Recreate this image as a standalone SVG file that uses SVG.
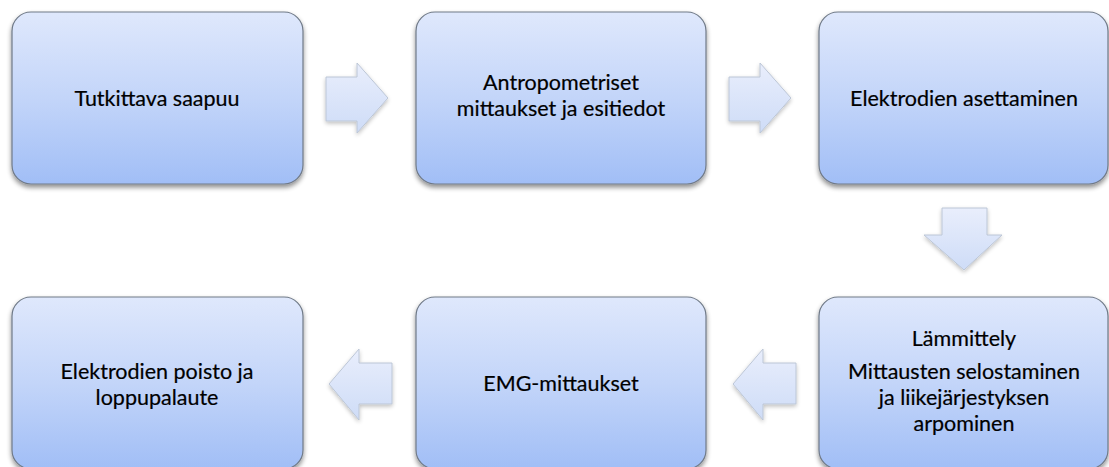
<svg xmlns="http://www.w3.org/2000/svg" width="1109" height="467" viewBox="0 0 1109 467">
<defs>
<linearGradient id="boxg" x1="0" y1="0" x2="0" y2="1">
<stop offset="0" stop-color="#dfe8fc"/>
<stop offset="0.5" stop-color="#c3d5f9"/>
<stop offset="1" stop-color="#a1bef6"/>
</linearGradient>
<linearGradient id="arrg" x1="0" y1="0" x2="0" y2="1">
<stop offset="0" stop-color="#e9eefc"/>
<stop offset="1" stop-color="#cedcf7"/>
</linearGradient>
<filter id="sh" x="-10%" y="-10%" width="120%" height="130%">
<feGaussianBlur in="SourceAlpha" stdDeviation="2.5"/>
<feOffset dx="0" dy="3" result="b"/>
<feComponentTransfer><feFuncA type="linear" slope="0.45"/></feComponentTransfer>
<feMerge><feMergeNode/><feMergeNode in="SourceGraphic"/></feMerge>
</filter>
<filter id="ash" x="-20%" y="-20%" width="140%" height="150%">
<feGaussianBlur in="SourceAlpha" stdDeviation="2"/>
<feOffset dx="0" dy="2" result="b"/>
<feComponentTransfer><feFuncA type="linear" slope="0.25"/></feComponentTransfer>
<feMerge><feMergeNode/><feMergeNode in="SourceGraphic"/></feMerge>
</filter>
</defs>
<style>
.box{fill:url(#boxg);stroke:#707a88;stroke-width:1.2;filter:url(#sh)}
.arr{fill:url(#arrg);stroke:#bcc6d6;stroke-width:1;filter:url(#ash)}
text{font-family:Lato,"Open Sans","Liberation Sans",sans-serif;font-size:21.5px;fill:#000;stroke:#000;stroke-width:0.2;text-anchor:middle}
</style>
<rect width="1109" height="467" fill="#fff"/>
<g id="connectors">
<polygon class="arr" points="326,77 357,77 357,63 388,98 357,133 357,121 326,121"/>
<polygon class="arr" points="729,77 760,77 760,63 791,98 760,133 760,121 729,121"/>
<polygon class="arr" points="942,208 987,208 987,235 1002,235 964,270 924,235 942,235"/>
<polygon class="arr" points="796,363 763,363 763,349 733,384 763,420 763,404 796,404"/>
<polygon class="arr" points="392,363 359,363 359,349 329,384 359,420 359,404 392,404"/>
</g>
<g id="n1">
<rect class="box" x="12" y="12" width="291" height="172" rx="19"/>
<text x="157" y="106">Tutkittava saapuu</text>
</g>
<g id="n2">
<rect class="box" x="416" y="12" width="290" height="172" rx="19"/>
<text x="561" y="90">Antropometriset</text>
<text x="561" y="116">mittaukset ja esitiedot</text>
</g>
<g id="n3">
<rect class="box" x="819" y="12" width="289" height="172" rx="19"/>
<text x="964" y="106">Elektrodien asettaminen</text>
</g>
<g id="n4">
<rect class="box" x="819" y="297" width="289" height="172" rx="19"/>
<text x="964" y="346">Lämmittely</text>
<text x="964" y="379">Mittausten selostaminen</text>
<text x="964" y="405">ja liikejärjestyksen</text>
<text x="964" y="431">arpominen</text>
</g>
<g id="n5">
<rect class="box" x="416" y="297" width="290" height="172" rx="19"/>
<text x="561" y="391">EMG-mittaukset</text>
</g>
<g id="n6">
<rect class="box" x="12" y="297" width="291" height="172" rx="19"/>
<text x="157" y="379">Elektrodien poisto ja</text>
<text x="157" y="405">loppupalaute</text>
</g>
</svg>
